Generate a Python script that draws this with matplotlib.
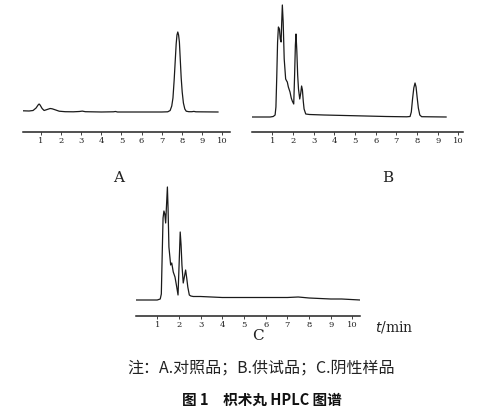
import matplotlib
matplotlib.use("Agg")
import matplotlib.pyplot as plt

# chromatogram traces: time (min), signal above baseline (px units)
t_a = [0.1, 0.4, 0.6, 0.75, 0.85, 0.9, 0.95, 1.05, 1.15, 1.3, 1.45, 1.55, 1.7, 1.9, 2.2, 2.6,
       2.9, 3.05, 3.2, 4.0, 4.6, 4.7, 4.8, 6.0, 7.0, 7.3, 7.42, 7.5, 7.56, 7.62, 7.67, 7.72,
       7.76, 7.8, 7.84, 7.88, 7.93, 7.97, 8.02, 8.08, 8.15, 8.22, 8.35, 8.5, 8.6, 8.7, 9.8]
h_a = [1.2, 1.0, 1.5, 4, 7, 8, 7, 3.5, 1.5, 2.5, 3.5, 3.2, 2.2, 0.8, 0.3, 0.2,
       0.5, 0.9, 0.3, 0.0, 0.2, 0.5, 0.0, 0.0, 0.0, 0.2, 1.5, 6, 14, 32, 50, 68,
       77, 80, 77, 70, 50, 34, 20, 9, 3, 0.8, 0.3, 0.3, 0.6, 0.2, 0.0]

t_b = [0.0, 0.9, 1.05, 1.14, 1.18, 1.22, 1.26, 1.3, 1.35, 1.39, 1.43, 1.46, 1.49, 1.53,
       1.58, 1.65, 1.7, 1.73, 1.78, 1.86, 1.92, 1.97, 2.04, 2.08, 2.12, 2.15, 2.19, 2.23,
       2.27, 2.33, 2.38, 2.42, 2.46, 2.5, 2.54, 2.62, 2.8, 3.5, 4.5, 5.5, 6.5, 7.5, 7.66,
       7.72, 7.78, 7.84, 7.9, 7.95, 8.0, 8.06, 8.13, 8.22, 9.4]
h_b = [0, 0, 0.5, 2, 10, 40, 75, 90, 88, 78, 75, 95, 112, 95,
       58, 38, 36, 35, 30, 25, 19, 16, 13, 40, 72, 83, 66, 42,
       28, 18, 24, 31, 27, 16, 8, 3, 2.5, 2.0, 1.5, 1.0, 0.5, 0.2, 0.5,
       5, 18, 29, 34, 30, 20, 9, 2, 0.3, 0]

t_c = [0.02, 1.0, 1.14, 1.19, 1.23, 1.27, 1.31, 1.35, 1.39, 1.43, 1.47, 1.5, 1.54, 1.62,
       1.67, 1.74, 1.82, 1.9, 1.96, 2.01, 2.06, 2.1, 2.14, 2.2, 2.26, 2.31, 2.36,
       2.41, 2.48, 2.55, 2.66, 3.0, 4.0, 5.0, 6.0, 7.0, 7.5, 8.0, 8.5, 9.0, 9.5, 10.35]
h_c = [0, 0, 1, 6, 45, 82, 89, 86, 77, 95, 113, 92, 53, 35,
       37, 28, 23, 13, 5, 36, 68, 55, 35, 17, 24, 30, 22,
       13, 5, 4, 3.5, 3.5, 2.5, 2.5, 2.5, 2.5, 3, 2, 1.5, 1, 1, 0]

ticks = [1, 2, 3, 4, 5, 6, 7, 8, 9, 10]
panel_letters = ["A", "B", "C"]
note = "注：A.对照品；B.供试品；C.阴性样品"
caption = "图 1　枳术丸 HPLC 图谱"

W, H = 485, 411
fig = plt.figure(figsize=(W / 100, H / 100), dpi=100)


def fx(px):
    return px / W


def fy(py):
    return 1 - py / H


def panel(t, h, x0px, x1px, axis_y, base_y, top_y, t0, t1):
    # axes spans from axis line (bottom) up to top_y
    ax = fig.add_axes([fx(x0px), fy(axis_y), (x1px - x0px) / W, (axis_y - top_y) / H])
    ax.plot(t, h, color="#1a1a1a", lw=0.9)
    ax.set_xlim(t0, t1)
    ax.set_ylim(-(axis_y - base_y), base_y - top_y)
    for s in ["top", "left", "right"]:
        ax.spines[s].set_visible(False)
    ax.spines["bottom"].set_linewidth(1.1)
    ax.spines["bottom"].set_color("#222222")
    ax.set_yticks([])
    ax.set_xticks(ticks)
    ax.set_xticklabels([str(v) for v in ticks], fontsize=6,
                       family="DejaVu Serif", color="#222222")
    ax.tick_params(axis="x", length=2, width=0.6, pad=1.5, color="#222222")
    ax.patch.set_alpha(0)
    return ax


panel(t_a, h_a, 23, 230, 132, 112, 20, (23 - 21) / 20.1, (230 - 21) / 20.1)
panel(t_b, h_b, 252, 463, 132, 117, 4, (252 - 251.5) / 20.7, (463 - 251.5) / 20.7)
panel(t_c, h_c, 136, 360, 316, 300, 180, (136 - 135.5) / 21.7, (360 - 135.5) / 21.7)

letter_pos = [(119, 178), (388, 178), (258, 336)]
for s, (px, py) in zip(panel_letters, letter_pos):
    fig.text(fx(px), fy(py), s, fontsize=11, family="DejaVu Serif",
             ha="center", va="center", color="#222222")

fig.text(fx(394), fy(327), "$t$/min", fontsize=10, family="DejaVu Serif",
         ha="center", va="center", color="#222222")

fig.text(fx(261), fy(368), note, fontsize=11.5,
         family=["Noto Sans CJK SC", "DejaVu Sans"], ha="center", va="center",
         color="#222222")
fig.text(fx(262), fy(400), caption, fontsize=10.5, fontweight="bold",
         family=["Noto Sans CJK SC", "DejaVu Sans"], ha="center", va="center",
         color="#111111")

fig.savefig("out.png", dpi=100)
